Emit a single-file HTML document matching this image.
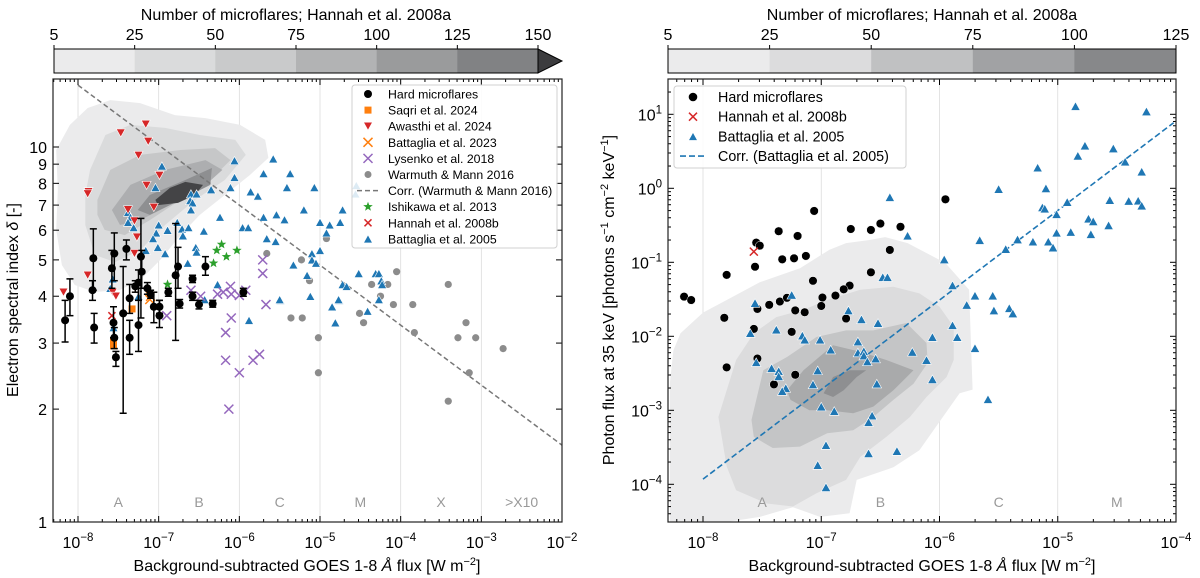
<!DOCTYPE html>
<html><head><meta charset="utf-8"><style>
body{margin:0;background:#fff}
svg{display:block;font-family:"Liberation Sans","DejaVu Sans",sans-serif}
</style></head><body>
<svg id="fig" width="1200" height="578" viewBox="0 0 1200 578" xmlns="http://www.w3.org/2000/svg">
<defs>
<clipPath id="clipL"><rect x="53" y="79" width="509" height="443"/></clipPath>
<clipPath id="clipR"><rect x="668" y="79" width="508" height="443"/></clipPath>
</defs>
<g id="gL"></g>
<g id="gR"></g>
</svg>
<script>
// ---------- LEFT PANEL DATA (log10 flux, delta) ----------
const cbLeftTicks=[5,25,50,75,100,125,150];
const cbLeftColors=['#ebebec','#dadbdc','#c9cacb','#b2b3b4','#9a9b9c','#818284'];
const cbRightTicks=[5,25,50,75,100,125];
const cbRightColors=['#ebebec','#dcdcdd','#c0c1c2','#a1a2a4','#87888a'];
const leftLevelColors=['#ebebec','#dadbdc','#c6c7c8','#adaeb0','#8e8f91','#444446'];
const rightLevelColors=['#ebebec','#dcdcdd','#c4c5c6','#a9aaab','#8e8f91'];
// contours: [log10 flux, log10 delta]
const leftContours=[
[[-8.27,0.992],[-8.10,1.059],[-7.88,1.104],[-7.60,1.125],[-7.23,1.117],[-6.80,1.085],[-6.42,1.077],[-5.99,1.059],[-5.68,1.019],[-5.64,0.971],[-5.87,0.925],[-6.18,0.872],[-6.49,0.819],[-6.73,0.765],[-6.98,0.699],[-7.23,0.645],[-7.48,0.619],[-7.79,0.613],[-8.04,0.632],[-8.20,0.685],[-8.27,0.779],[-8.25,0.885]],
[[-7.85,0.939],[-7.66,1.032],[-7.35,1.059],[-6.92,1.051],[-6.49,1.032],[-6.05,1.019],[-5.92,0.979],[-6.18,0.912],[-6.55,0.859],[-6.92,0.792],[-7.23,0.725],[-7.54,0.693],[-7.79,0.712],[-7.91,0.792],[-7.91,0.872]],
[[-7.76,0.859],[-7.60,0.939],[-7.23,0.979],[-6.73,0.992],[-6.30,0.997],[-6.11,0.965],[-6.36,0.912],[-6.73,0.859],[-7.11,0.805],[-7.42,0.765],[-7.67,0.779],[-7.76,0.819]],
[[-7.58,0.832],[-7.35,0.899],[-6.92,0.939],[-6.42,0.965],[-6.21,0.939],[-6.49,0.885],[-6.86,0.845],[-7.23,0.805],[-7.48,0.792]],
[[-7.26,0.832],[-7.11,0.872],[-6.67,0.912],[-6.34,0.944],[-6.36,0.899],[-6.73,0.859],[-7.11,0.819]],
[[-7.04,0.859],[-6.86,0.891],[-6.67,0.907],[-6.45,0.899],[-6.55,0.872],[-6.76,0.851],[-7.01,0.845]]
];
const b05LX=[-6.96,-6.06,-5.58,-5.70,-5.37,-6.06,-6.11,-6.35,-7.04,-6.60,-6.53,-6.61,-6.58,-6.60,-5.86,-5.77,-5.41,-5.07,-4.55,-4.56,-5.20,-4.72,-7.38,-7.35,-7.38,-7.31,-7.00,-7.03,-7.07,-6.89,-6.77,-6.71,-6.63,-6.70,-6.44,-6.24,-5.96,-5.89,-5.70,-5.54,-5.44,-5.66,-5.55,-5.00,-4.88,-4.75,-4.92,-7.16,-7.01,-6.92,-6.54,-6.53,-6.64,-5.33,-5.10,-5.00,-5.10,-5.05,-5.16,-4.72,-4.52,-4.31,-4.27,-4.24,-6.27,-7.60,-7.57,-5.12,-5.49,-4.76,-5.50,-4.77,-4.85,-4.81,-4.41,-4.27,-4.23,-4.67,-5.88,-6.43,-7.56,-7.25];
const b05D=[8.9,9.2,9.3,8.5,8.5,8.3,7.8,7.7,7.8,7.5,7.5,7.2,7.1,6.8,7.6,7.4,7.8,7.8,7.9,7.5,6.8,6.8,6.7,6.5,6.3,6.1,6.2,5.9,5.7,6.0,6.3,6.05,6.1,5.8,5.97,6.5,6.1,6.1,6.5,6.6,6.4,5.7,5.6,6.3,6.2,6.3,5.9,5.3,5.4,5.2,5.4,5.25,4.9,4.85,5.2,5.3,5.0,4.9,4.55,4.3,4.6,4.6,4.6,4.4,4.3,4.2,4.45,4.0,3.9,3.9,3.92,3.92,3.75,3.4,3.65,3.92,4.3,4.25,3.45,3.92,3.3,4.0];
const wmLX=[-4.92,-5.66,-5.23,-5.13,-4.05,-4.36,-4.16,-3.41,-4.25,-5.36,-5.22,-5.02,-5.02,-4.51,-4.46,-4.09,-3.85,-3.83,-3.41,-3.29,-3.19,-3.07,-3.15,-2.73];
const wmD=[5.7,5.2,5.0,4.4,4.65,4.3,4.3,4.3,4.0,3.5,3.5,3.1,2.5,3.6,3.4,3.8,3.8,3.2,2.1,3.1,3.4,3.1,2.5,2.9];
const lyLX=[-5.71,-5.71,-6.60,-6.48,-6.27,-6.20,-6.11,-6.10,-6.00,-5.92,-6.90,-6.10,-6.17,-6.17,-6.00,-5.83,-5.75,-5.67,-6.13];
const lyD=[5.0,4.6,4.15,4.0,4.05,4.1,4.25,4.05,4.02,4.15,3.55,3.5,3.2,2.7,2.5,2.7,2.8,3.8,2.0];
const awLX=[-7.16,-7.47,-7.13,-7.25,-6.99,-7.15,-7.87,-7.88,-7.38,-7.06,-7.30,-7.27,-7.30,-7.88,-8.18,-7.57,-7.53];
const awD=[11.5,10.9,10.35,9.5,8.4,7.9,7.6,7.5,6.8,6.9,6.35,5.75,5.2,4.55,4.1,4.1,4.0];
const ishLX=[-6.89,-6.32,-6.28,-6.22,-6.16,-6.03];
const ishD=[4.3,4.9,5.3,5.5,5.1,5.3];
const sqLX=[-7.56,-7.56,-7.33];
const sqD=[2.95,3.02,3.7];
const b23LX=[-7.11,-7.10];
const b23D=[3.92,4.0];
const h08LX=[-7.58];
const h08D=[3.55];
const hmLX=[-8.10,-8.16,-7.82,-7.81,-7.80,-7.58,-7.55,-7.56,-7.55,-7.53,-7.40,-7.36,-7.36,-7.44,-7.25,-7.22,-7.29,-7.25,-7.21,-7.14,-7.10,-7.06,-6.99,-6.99,-6.88,-6.79,-6.76,-6.74,-6.58,-6.58,-6.50,-6.42,-6.33,-5.95];
const hmD=[4.0,3.45,4.15,5.05,3.3,4.75,5.2,3.4,3.1,2.75,5.35,3.95,3.1,3.6,4.35,5.1,4.25,3.35,4.65,4.2,4.05,3.75,3.75,3.55,4.1,4.55,4.8,3.82,4.45,4.0,3.8,4.8,3.82,4.1];
const hmLo=[3.55,3.02,3.9,4.15,3.0,4.2,4.4,3.1,2.9,2.6,5.0,3.6,2.8,1.95,3.9,3.5,4.1,2.85,4.2,4.05,3.95,3.4,3.6,3.3,4.0,3.05,4.2,3.72,4.35,3.9,3.7,4.55,3.74,4.0];
const hmHi=[4.45,3.9,4.4,6.05,3.6,5.3,5.9,3.75,3.3,2.85,5.65,4.3,3.45,4.8,4.7,6.45,4.4,4.2,5.3,4.35,4.15,4.1,3.9,3.9,4.2,6.25,5.4,3.92,4.55,4.1,3.9,5.1,3.9,4.2];
const wmCorr=[1.165,-0.160]; // log delta = a + b*(logF+8)
const leftClassLabels=['A','B','C','M','X','>X10'];
const leftClassLX=[-7.5,-6.5,-5.5,-4.5,-3.5,-2.5];
const leftXTicks=[-8,-7,-6,-5,-4,-3,-2];
const leftYTicks=[1,2,3,4,5,6,7,8,9,10];

// ---------- RIGHT PANEL DATA (log10 flux, log10 photon flux) ----------
const rightContours=[
[[-8.28,-4.51],[-8.28,-2.63],[-8.25,-2.19],[-8.19,-1.96],[-8.00,-1.68],[-7.80,-1.51],[-7.52,-1.27],[-7.18,-1.08],[-6.93,-0.83],[-6.79,-0.74],[-6.60,-0.70],[-6.46,-0.66],[-6.27,-0.74],[-5.95,-1.01],[-5.75,-1.37],[-5.72,-2.72],[-5.83,-2.77],[-6.17,-3.54],[-6.39,-3.77],[-6.70,-3.94],[-6.76,-4.39],[-7.01,-4.44],[-7.24,-4.31],[-7.52,-4.44],[-7.80,-4.51]],
[[-7.87,-3.09],[-7.80,-2.73],[-7.72,-2.32],[-7.57,-1.96],[-7.38,-1.74],[-7.15,-1.64],[-6.95,-1.51],[-6.67,-1.37],[-6.39,-1.33],[-6.17,-1.42],[-6.00,-1.60],[-5.88,-1.87],[-5.88,-2.32],[-5.94,-2.55],[-6.11,-2.82],[-6.25,-3.09],[-6.45,-3.36],[-6.67,-3.63],[-6.79,-3.94],[-7.04,-4.12],[-7.24,-4.30],[-7.46,-4.26],[-7.72,-4.08],[-7.80,-3.76]],
[[-7.59,-3.13],[-7.49,-2.46],[-7.29,-2.28],[-7.04,-2.01],[-6.79,-1.92],[-6.56,-1.92],[-6.28,-1.82],[-6.11,-2.09],[-6.10,-2.36],[-6.22,-2.64],[-6.39,-2.86],[-6.56,-3.09],[-6.73,-3.27],[-6.95,-3.31],[-7.18,-3.49],[-7.41,-3.51],[-7.57,-3.36]],
[[-7.29,-2.73],[-7.15,-2.46],[-6.90,-2.12],[-6.67,-2.21],[-6.45,-2.32],[-6.22,-2.46],[-6.39,-2.73],[-6.56,-2.95],[-6.73,-3.04],[-6.95,-3.00],[-7.10,-3.00],[-7.26,-2.86]],
[[-6.98,-2.77],[-6.90,-2.55],[-6.76,-2.46],[-6.62,-2.46],[-6.70,-2.55],[-6.81,-2.73],[-6.90,-2.82]]
];
const rhmLX=[-5.95,-7.06,-7.36,-6.50,-6.58,-6.75,-6.33,-7.20,-7.55,-7.52,-7.33,-7.23,-7.13,-6.42,-7.56,-7.80,-6.58,-7.07,-6.76,-6.81,-8.16,-8.10,-7.82,-7.54,-7.44,-7.35,-7.29,-7.22,-7.14,-6.99,-7.00,-6.88,-6.79,-7.57,-7.25,-7.54,-7.80,-7.22,-7.40];
const rhmLF=[-0.149,-0.306,-0.58,-0.477,-0.563,-0.55,-0.52,-0.644,-0.734,-0.775,-0.96,-0.946,-0.914,-0.833,-1.06,-1.17,-1.135,-1.25,-1.315,-1.365,-1.464,-1.51,-1.75,-1.63,-1.575,-1.53,-1.48,-1.65,-1.675,-1.476,-1.59,-1.45,-1.76,-1.90,-1.94,-2.30,-2.42,-2.52,-2.65];
const rh08LX=[-7.57];
const rh08LF=[-0.856];
const rb05LX=[-4.85,-4.25,-4.77,-4.53,-4.83,-5.17,-4.43,-4.29,-5.50,-5.10,-6.42,-5.13,-5.11,-4.92,-4.56,-4.40,-4.32,-4.29,-5.01,-4.74,-4.70,-5.01,-4.89,-4.72,-4.57,-5.66,-5.34,-5.21,-5.08,-5.04,-6.27,-5.44,-5.96,-6.48,-6.44,-5.89,-5.70,-5.55,-7.25,-5.77,-5.54,-5.41,-5.38,-7.56,-7.60,-7.38,-7.16,-7.14,-7.01,-6.77,-6.66,-6.52,-6.69,-6.92,-5.89,-5.85,-6.06,-5.70,-6.23,-6.11,-6.69,-6.64,-6.64,-6.61,-6.54,-6.53,-6.06,-7.03,-7.07,-7.42,-7.36,-7.36,-7.30,-7.33,-7.00,-6.89,-6.57,-6.60,-7.55,-5.59,-6.96,-6.60,-6.36,-7.03,-6.96];
const rb05LF=[1.11,1.04,0.577,0.54,0.44,0.28,0.36,0.225,-0.01,0.0,-0.12,-0.257,-0.275,-0.185,-0.158,-0.17,-0.167,-0.234,-0.35,-0.41,-0.446,-0.6,-0.59,-0.62,-0.50,-0.70,-0.69,-0.72,-0.72,-0.80,-0.64,-0.82,-0.96,-1.20,-1.20,-1.31,-1.45,-1.45,-1.44,-1.575,-1.65,-1.62,-1.69,-1.55,-1.955,-1.91,-1.99,-2.045,-2.045,-1.65,-1.77,-1.82,-2.07,-2.18,-1.85,-2.01,-2.01,-2.16,-2.21,-2.32,-2.22,-2.2,-2.26,-2.34,-2.30,-2.64,-2.58,-2.46,-2.65,-2.43,-2.47,-2.54,-2.70,-2.74,-2.95,-3.01,-3.07,-3.16,-2.35,-2.85,-3.47,-3.58,-3.55,-3.74,-4.04];
const b05Corr=[-3.93,1.21]; // log flux = a + b*(logF+8), from logF=-8
const rightClassLabels=['A','B','C','M'];
const rightClassLX=[-7.5,-6.5,-5.5,-4.5];
const rightXTicks=[-8,-7,-6,-5,-4];
const rightYTicks=[-4,-3,-2,-1,0,1];

// ---------- helpers ----------
const NS='http://www.w3.org/2000/svg';
function mk(parent,tag,attrs,text){const e=document.createElementNS(NS,tag);for(const k in attrs)e.setAttribute(k,attrs[k]);if(text!==undefined)e.textContent=text;parent.appendChild(e);return e;}
const xL=lx=>53+(lx+8.31)/6.31*509;
const yLlog=l=>522-l*375;
const yL=d=>yLlog(Math.log10(d));
const xR=lx=>668+(lx+8.296)/4.296*508;
const yR=lf=>484.3-(lf+4)*74;
const BLUE='#1f77b4',RED='#d62728',ORANGE='#ff7f0e',PURPLE='#9467bd',GREEN='#2ca02c',GRAY='#8c8c8c';

function tri(g,x,y,s,c,down){const h=s*0.9;const p=down?`${x-s/2},${y-h/2} ${x+s/2},${y-h/2} ${x},${y+h/2}`:`${x-s/2},${y+h/2} ${x+s/2},${y+h/2} ${x},${y-h/2}`;return mk(g,'polygon',{points:p,fill:c,stroke:'#fff','stroke-width':0.6});}
function cross(g,x,y,s,c){const e=mk(g,'path',{d:`M${x-s},${y-s}L${x+s},${y+s}M${x-s},${y+s}L${x+s},${y-s}`,stroke:c,'stroke-width':1.5,fill:'none'});return e;}
function star(g,x,y,r,c){let p='';for(let i=0;i<10;i++){const a=-Math.PI/2+i*Math.PI/5;const rr=i%2?r*0.42:r;p+=(x+rr*Math.cos(a)).toFixed(1)+','+(y+rr*Math.sin(a)).toFixed(1)+' ';}return mk(g,'polygon',{points:p,fill:c});}
function supText(g,x,y,base,exp,anchor,size){const t=mk(g,'text',{x:x,y:y,'text-anchor':anchor,'font-size':size,fill:'#000'});mk(t,'tspan',{},base);mk(t,'tspan',{dy:-7,'font-size':size*0.72},exp);return t;}
function colorbar(g,x0,x1,ticks,colors,arrow,name){
  const cb=mk(g,'g',{});
  
  
  const n=colors.length,w=(x1-x0)/n;
  colors.forEach((c,i)=>{const r=mk(cb,'rect',{x:x0+i*w,y:49,width:w+0.5,height:24,fill:c});});
  if(arrow){const a=mk(cb,'polygon',{points:`${x1},49 ${x1+24},61 ${x1},73`,fill:'#3c3c3e',stroke:'#000','stroke-width':1});}
  mk(cb,'rect',{x:x0,y:49,width:x1-x0,height:24,fill:'none',stroke:'#000','stroke-width':1});
  ticks.forEach((t,i)=>{const x=x0+i*w;mk(cb,'line',{x1:x,x2:x,y1:49,y2:45,stroke:'#000'});const tl=mk(cb,'text',{x:x,y:40,'text-anchor':'middle','font-size':16},String(t));});
  const tt=mk(cb,'text',{x:(x0+x1)/2,y:20,'text-anchor':'middle','font-size':16},'Number of microflares; Hannah et al. 2008a');
  
}
function axesFrame(g,x0,x1,xTicks,xf,yMajors,yf,yMinors,clip){
  // grid
  xTicks.forEach(t=>{const x=xf(t);mk(clip,'line',{x1:x,x2:x,y1:79,y2:522,stroke:'#dcdcdc','stroke-width':0.8});});
}
function ticksAndFrame(g,x0,x1,xTicks,xf,xMin,xMax,yMaj,yMin){
  const f=mk(g,'g',{});
  for(let d=Math.floor(xMin);d<=Math.ceil(xMax);d++){for(let k=1;k<10;k++){const lx=d+Math.log10(k);if(lx<xMin||lx>xMax)continue;const x=xf(lx);const len=k===1?6:3;mk(f,'line',{x1:x,x2:x,y1:522,y2:522-len,stroke:'#000'});mk(f,'line',{x1:x,x2:x,y1:79,y2:79+len,stroke:'#000'});}}
  yMaj.forEach(y=>{mk(f,'line',{x1:x0,x2:x0+6,y1:y,y2:y,stroke:'#000'});mk(f,'line',{x1:x1,x2:x1-6,y1:y,y2:y,stroke:'#000'});});
  yMin.forEach(y=>{mk(f,'line',{x1:x0,x2:x0+3,y1:y,y2:y,stroke:'#000'});mk(f,'line',{x1:x1,x2:x1-3,y1:y,y2:y,stroke:'#000'});});
  const fr=mk(f,'rect',{x:x0,y:79,width:x1-x0,height:443,fill:'none',stroke:'#222','stroke-width':1.2});
  
  xTicks.forEach(t=>{const l=supText(g,xf(t),548,'10','−'+(-t),'middle',16);});
}

// ================= LEFT =================
const gL=document.getElementById('gL');
colorbar(gL,54,538,cbLeftTicks,cbLeftColors,true,'left-colorbar');
const cL=mk(gL,'g',{'clip-path':'url(#clipL)'});

leftXTicks.forEach(t=>{const x=xL(t);mk(cL,'line',{x1:x,x2:x,y1:79,y2:522,stroke:'#dcdcdc','stroke-width':0.8});});
leftContours.forEach((poly,i)=>{const p=mk(cL,'path',{d:'M'+poly.map(q=>xL(q[0]).toFixed(1)+','+yLlog(q[1]).toFixed(1)).join('L')+'Z',fill:leftLevelColors[i]});});
leftClassLabels.forEach((s,i)=>{const t=mk(cL,'text',{x:xL(leftClassLX[i]),y:507,'text-anchor':'middle','font-size':14,fill:'#999'},s);});
// correlation line
{const lxa=-8,lxb=-2;const ln=mk(cL,'line',{x1:xL(lxa),y1:yLlog(wmCorr[0]),x2:xL(lxb),y2:yLlog(wmCorr[0]+wmCorr[1]*(lxb+8)),stroke:'#777','stroke-width':1.5,'stroke-dasharray':'5,3'});}
wmLX.forEach((v,i)=>{const c=mk(cL,'circle',{cx:xL(v),cy:yL(wmD[i]),r:3.6,fill:GRAY});});
b05LX.forEach((v,i)=>{const t=tri(cL,xL(v),yL(b05D[i]),9,BLUE,false);});
lyLX.forEach((v,i)=>{const t=cross(cL,xL(v),yL(lyD[i]),4.5,PURPLE);});
ishLX.forEach((v,i)=>{const t=star(cL,xL(v),yL(ishD[i]),5,GREEN);});
awLX.forEach((v,i)=>{const t=tri(cL,xL(v),yL(awD[i]),9,RED,true);});
sqLX.forEach((v,i)=>{const r=mk(cL,'rect',{x:xL(v)-3.5,y:yL(sqD[i])-3.5,width:7,height:7,fill:ORANGE});});
b23LX.forEach((v,i)=>{const t=cross(cL,xL(v),yL(b23D[i]),4.5,ORANGE);});
h08LX.forEach((v,i)=>{const t=cross(cL,xL(v),yL(h08D[i]),3.5,RED);});
hmLX.forEach((v,i)=>{const x=xL(v);const g=mk(cL,'g',{});
  mk(g,'line',{x1:x,x2:x,y1:yL(hmLo[i]),y2:yL(hmHi[i]),stroke:'#000','stroke-width':1.5});
  mk(g,'line',{x1:x-3.5,x2:x+3.5,y1:yL(hmLo[i]),y2:yL(hmLo[i]),stroke:'#000','stroke-width':1.5});
  mk(g,'line',{x1:x-3.5,x2:x+3.5,y1:yL(hmHi[i]),y2:yL(hmHi[i]),stroke:'#000','stroke-width':1.5});
  mk(g,'circle',{cx:x,cy:yL(hmD[i]),r:4,fill:'#000'});});
// ticks
{const maj=leftYTicks.map(yL);const min=[];ticksAndFrame(gL,53,562,leftXTicks,xL,-8.31,-2,maj,min);
 leftYTicks.forEach(t=>{const l=mk(gL,'text',{x:47,y:yL(t)+6,'text-anchor':'end','font-size':16},String(t));});}
{const t=mk(gL,'text',{x:307,y:571,'text-anchor':'middle','font-size':16});
 mk(t,'tspan',{},'Background-subtracted GOES 1-8 ');mk(t,'tspan',{'font-style':'italic'},'Å');mk(t,'tspan',{},' flux [W m');mk(t,'tspan',{dy:-6,'font-size':11},'−2');mk(t,'tspan',{dy:6},']');}
{const t=mk(gL,'text',{x:0,y:0,'text-anchor':'middle','font-size':16,transform:'translate(18,300) rotate(-90)'});
 mk(t,'tspan',{},'Electron spectral index ');mk(t,'tspan',{'font-style':'italic'},'δ');mk(t,'tspan',{},' [-]');}
// legend left
{const lg=mk(gL,'g',{});
 mk(lg,'rect',{x:352,y:85,width:205,height:163,rx:3,fill:'#fff','fill-opacity':0.85,stroke:'#d0d0d0'});
 const labels=['Hard microflares','Saqri et al. 2024','Awasthi et al. 2024','Battaglia et al. 2023','Lysenko et al. 2018','Warmuth & Mann 2016','Corr. (Warmuth & Mann 2016)','Ishikawa et al. 2013','Hannah et al. 2008b','Battaglia et al. 2005'];
 labels.forEach((s,i)=>{const y=94+i*16.1;const mx=368;
  if(i===0)mk(lg,'circle',{cx:mx,cy:y,r:4,fill:'#000'});
  if(i===1)mk(lg,'rect',{x:mx-3.5,y:y-3.5,width:7,height:7,fill:ORANGE});
  if(i===2)tri(lg,mx,y,9,RED,true);
  if(i===3)cross(lg,mx,y,4.5,ORANGE);
  if(i===4)cross(lg,mx,y,4.5,PURPLE);
  if(i===5)mk(lg,'circle',{cx:mx,cy:y,r:3.5,fill:GRAY});
  if(i===6)mk(lg,'line',{x1:357,x2:379,y1:y,y2:y,stroke:'#777','stroke-width':1.5,'stroke-dasharray':'5,3'});
  if(i===7)star(lg,mx,y,5,GREEN);
  if(i===8)cross(lg,mx,y,3.5,RED);
  if(i===9)tri(lg,mx,y,9,BLUE,false);
  const t=mk(lg,'text',{x:388,y:y+4.5,'font-size':12.3},s);});}

// ================= RIGHT =================
const gR=document.getElementById('gR');
colorbar(gR,668,1176,cbRightTicks,cbRightColors,false,'right-colorbar');
const cR=mk(gR,'g',{'clip-path':'url(#clipR)'});

rightXTicks.forEach(t=>{const x=xR(t);mk(cR,'line',{x1:x,x2:x,y1:79,y2:522,stroke:'#dcdcdc','stroke-width':0.8});});
rightContours.forEach((poly,i)=>{const p=mk(cR,'path',{d:'M'+poly.map(q=>xR(q[0]).toFixed(1)+','+yR(q[1]).toFixed(1)).join('L')+'Z',fill:rightLevelColors[i]});});
rightClassLabels.forEach((s,i)=>{const t=mk(cR,'text',{x:xR(rightClassLX[i]),y:507,'text-anchor':'middle','font-size':14,fill:'#999'},s);});
{const lxa=-8,lxb=-4.02;const ln=mk(cR,'line',{x1:xR(lxa),y1:yR(b05Corr[0]),x2:xR(lxb),y2:yR(b05Corr[0]+b05Corr[1]*(lxb+8)),stroke:BLUE,'stroke-width':1.6,'stroke-dasharray':'6,3'});}
rhmLX.forEach((v,i)=>{const c=mk(cR,'circle',{cx:xR(v),cy:yR(rhmLF[i]),r:4.3,fill:'#000',stroke:'#fff','stroke-width':0.5});});
rb05LX.forEach((v,i)=>{const t=tri(cR,xR(v),yR(rb05LF[i]),9.5,BLUE,false);});
rh08LX.forEach((v,i)=>{const t=cross(cR,xR(v),yR(rh08LF[i]),4,RED);});
{const maj=rightYTicks.map(yR);const min=[];for(let d=-5;d<=1;d++)for(let k=2;k<10;k++){const l=d+Math.log10(k);if(l>-4.51&&l<1.477)min.push(yR(l));}
 ticksAndFrame(gR,668,1176,rightXTicks,xR,-8.296,-4,maj,min);
 rightYTicks.forEach(t=>{const l=supText(gR,662,yR(t)+6,'10',t<0?'−'+(-t):String(t),'end',16);});}
{const t=mk(gR,'text',{x:922,y:571,'text-anchor':'middle','font-size':16});
 mk(t,'tspan',{},'Background-subtracted GOES 1-8 ');mk(t,'tspan',{'font-style':'italic'},'Å');mk(t,'tspan',{},' flux [W m');mk(t,'tspan',{dy:-6,'font-size':11},'−2');mk(t,'tspan',{dy:6},']');}
{const t=mk(gR,'text',{x:0,y:0,'text-anchor':'middle','font-size':16,transform:'translate(614,300) rotate(-90)'});
 mk(t,'tspan',{},'Photon flux at 35 keV [photons s');mk(t,'tspan',{dy:-6,'font-size':11},'−1');mk(t,'tspan',{dy:6},' cm');mk(t,'tspan',{dy:-6,'font-size':11},'−2');mk(t,'tspan',{dy:6},' keV');mk(t,'tspan',{dy:-6,'font-size':11},'−1');mk(t,'tspan',{dy:6},']');}
{const lg=mk(gR,'g',{});
 mk(lg,'rect',{x:674,y:86,width:232,height:82,rx:3,fill:'#fff','fill-opacity':0.85,stroke:'#d0d0d0'});
 const labels=['Hard microflares','Hannah et al. 2008b','Battaglia et al. 2005','Corr. (Battaglia et al. 2005)'];
 labels.forEach((s,i)=>{const y=97+i*19.7;const mx=693;
  if(i===0)mk(lg,'circle',{cx:mx,cy:y,r:4.3,fill:'#000'});
  if(i===1)cross(lg,mx,y,4,RED);
  if(i===2)tri(lg,mx,y,9,BLUE,false);
  if(i===3)mk(lg,'line',{x1:680,x2:707,y1:y,y2:y,stroke:BLUE,'stroke-width':1.6,'stroke-dasharray':'6,3'});
  const t=mk(lg,'text',{x:718,y:y+5,'font-size':14.3},s);});}
</script>
</body></html>
